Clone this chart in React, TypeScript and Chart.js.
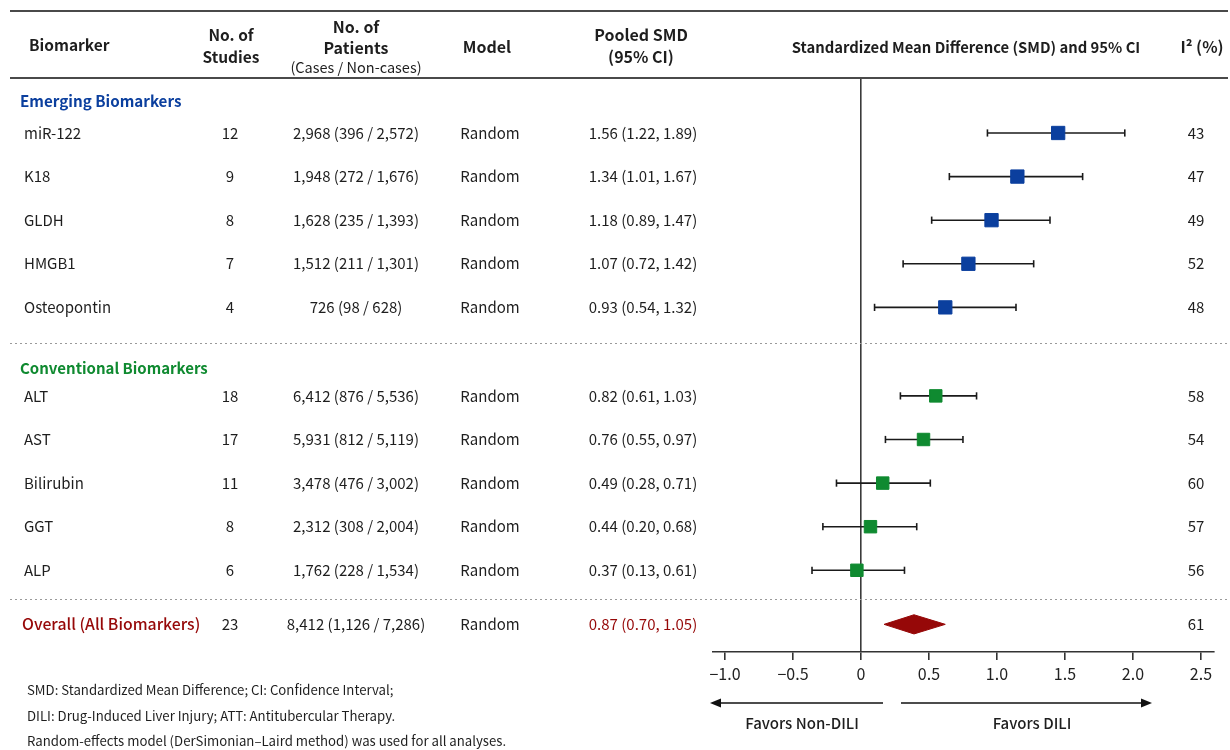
import React, { useEffect, useRef } from "react";
import { Chart, registerables } from "chart.js";

Chart.register(...registerables);

// ---------- data ----------
const emergingNames = ["miR-122", "K18", "GLDH", "HMGB1", "Osteopontin"];
const emergingStudies = [12, 9, 8, 7, 4];
const emergingPatients = [
  "2,968 (396 / 2,572)",
  "1,948 (272 / 1,676)",
  "1,628 (235 / 1,393)",
  "1,512 (211 / 1,301)",
  "726 (98 / 628)",
];
const emergingPooled = [
  "1.56 (1.22, 1.89)",
  "1.34 (1.01, 1.67)",
  "1.18 (0.89, 1.47)",
  "1.07 (0.72, 1.42)",
  "0.93 (0.54, 1.32)",
];
const emergingSmd = [1.45, 1.15, 0.96, 0.79, 0.62];
const emergingLower = [0.93, 0.65, 0.52, 0.31, 0.1];
const emergingUpper = [1.94, 1.63, 1.39, 1.27, 1.14];
const emergingI2 = [43, 47, 49, 52, 48];

const conventionalNames = ["ALT", "AST", "Bilirubin", "GGT", "ALP"];
const conventionalStudies = [18, 17, 11, 8, 6];
const conventionalPatients = [
  "6,412 (876 / 5,536)",
  "5,931 (812 / 5,119)",
  "3,478 (476 / 3,002)",
  "2,312 (308 / 2,004)",
  "1,762 (228 / 1,534)",
];
const conventionalPooled = [
  "0.82 (0.61, 1.03)",
  "0.76 (0.55, 0.97)",
  "0.49 (0.28, 0.71)",
  "0.44 (0.20, 0.68)",
  "0.37 (0.13, 0.61)",
];
const conventionalSmd = [0.55, 0.46, 0.16, 0.07, -0.03];
const conventionalLower = [0.29, 0.18, -0.18, -0.28, -0.36];
const conventionalUpper = [0.85, 0.75, 0.51, 0.41, 0.32];
const conventionalI2 = [58, 54, 60, 57, 56];

const overallLabel = "Overall (All Biomarkers)";
const overallStudies = 23;
const overallPatients = "8,412 (1,126 / 7,286)";
const overallPooled = "0.87 (0.70, 1.05)";
const overallSmd = 0.39;
const overallLower = 0.17;
const overallUpper = 0.62;
const overallI2 = 61;

const modelName = "Random";
const xTickValues = [-1, -0.5, 0, 0.5, 1, 1.5, 2, 2.5];
const xTickLabels = ["\u22121.0", "\u22120.5", "0", "0.5", "1.0", "1.5", "2.0", "2.5"];
const footnotes = [
  "SMD: Standardized Mean Difference; CI: Confidence Interval;",
  "DILI: Drug-Induced Liver Injury; ATT: Antitubercular Therapy.",
  "Random-effects model (DerSimonian\u2013Laird method) was used for all analyses.",
];

// ---------- layout constants ----------
const FONT = "'Noto Sans CJK KR', 'Noto Sans', sans-serif";
const TEXT = "#1e1e1e";
const BLUE = "#0b3f9e";
const GREEN = "#0f8a30";
const RED = "#960808";
const GROUP_GAP = 1.03;
const OVERALL_GAP = 1.24;
const emergingPos = emergingNames.map((_, i) => i);
const conventionalPos = conventionalNames.map((_, i) => i + emergingNames.length + GROUP_GAP);
const overallPos = conventionalPos[conventionalPos.length - 1] + OVERALL_GAP;
const emergingHeaderPos = -0.73;
const conventionalHeaderPos = 5.4;
const separatorPos = [4.82, 10.69];
const DIAMOND_HALF = 0.22;

const COL = { name: 24, studies: 230, patients: 356, model: 490, pooled: 643, i2: 1196 };

function errorBar(lo: number, hi: number, y: number) {
  return {
    data: [
      { x: lo, y },
      { x: hi, y },
    ],
    showLine: true,
    borderColor: "#1a1a1a",
    borderWidth: 1.6,
    pointStyle: "line",
    pointRotation: 90,
    pointRadius: 3.6,
    pointBorderWidth: 1.6,
    pointBorderColor: "#1a1a1a",
    order: 3,
  };
}

const tablePlugin = {
  id: "tableText",
  afterDraw(chart: any) {
    const ctx: CanvasRenderingContext2D = chart.ctx;
    const ys = chart.scales.y;
    const W = chart.width;
    ctx.save();
    ctx.textBaseline = "middle";

    const txt = (s: string, x: number, y: number, align: CanvasTextAlign, font: string, color = TEXT) => {
      ctx.font = font;
      ctx.fillStyle = color;
      ctx.textAlign = align;
      ctx.fillText(s, x, y);
    };
    const bold = `bold 16px ${FONT}`;
    const reg = `15px ${FONT}`;

    // rules
    ctx.strokeStyle = "#4a4a4a";
    ctx.lineWidth = 2;
    ctx.beginPath();
    ctx.moveTo(10, 11);
    ctx.lineTo(W - 2, 11);
    ctx.stroke();
    ctx.lineWidth = 1.8;
    ctx.beginPath();
    ctx.moveTo(10, 78);
    ctx.lineTo(W - 2, 78);
    ctx.stroke();

    ctx.strokeStyle = "#9a9a9a";
    ctx.lineWidth = 1.2;
    ctx.setLineDash([2, 3]);
    separatorPos.forEach((p) => {
      const y = Math.round(ys.getPixelForValue(p)) + 0.5;
      ctx.beginPath();
      ctx.moveTo(10, y);
      ctx.lineTo(W - 2, y);
      ctx.stroke();
    });
    ctx.setLineDash([]);

    // header
    txt("Biomarker", 29, 45, "left", `bold 15.5px ${FONT}`);
    txt("No. of", 231, 35, "center", `bold 15.5px ${FONT}`);
    txt("Studies", 231, 57, "center", `bold 15.5px ${FONT}`);
    txt("No. of", COL.patients, 27, "center", bold);
    txt("Patients", COL.patients, 48, "center", bold);
    txt("(Cases / Non-cases)", COL.patients, 67, "center", `14.5px ${FONT}`);
    txt("Model", 487, 47, "center", bold);
    txt("Pooled SMD", 641, 35, "center", bold);
    txt("(95% CI)", 641, 57, "center", bold);
    txt("Standardized Mean Difference (SMD) and 95% CI", 966, 47, "center", `bold 14.8px ${FONT}`);
    txt("I\u00b2 (%)", 1202, 47, "center", bold);

    // sections
    txt("Emerging Biomarkers", 20, ys.getPixelForValue(emergingHeaderPos), "left", `bold 15.2px ${FONT}`, BLUE);
    txt("Conventional Biomarkers", 20, ys.getPixelForValue(conventionalHeaderPos), "left", `bold 15px ${FONT}`, GREEN);

    const row = (pos: number, name: string, st: number, pat: string, pooled: string, i2: number) => {
      const y = ys.getPixelForValue(pos);
      txt(name, COL.name, y, "left", reg);
      txt(String(st), COL.studies, y, "center", reg);
      txt(pat, COL.patients, y, "center", reg);
      txt(modelName, COL.model, y, "center", reg);
      txt(pooled, COL.pooled, y, "center", reg);
      txt(String(i2), COL.i2, y, "center", reg);
    };
    emergingNames.forEach((n, i) =>
      row(emergingPos[i], n, emergingStudies[i], emergingPatients[i], emergingPooled[i], emergingI2[i])
    );
    conventionalNames.forEach((n, i) =>
      row(conventionalPos[i], n, conventionalStudies[i], conventionalPatients[i], conventionalPooled[i], conventionalI2[i])
    );
    {
      const y = ys.getPixelForValue(overallPos);
      txt(overallLabel, 22, y, "left", `500 15.8px ${FONT}`, RED);
      txt(String(overallStudies), COL.studies, y, "center", reg);
      txt(overallPatients, COL.patients, y, "center", reg);
      txt(modelName, COL.model, y, "center", reg);
      txt(overallPooled, COL.pooled, y, "center", reg, RED);
      txt(String(overallI2), COL.i2, y, "center", reg);
    }

    // arrows
    const ay = 703;
    ctx.strokeStyle = "#111";
    ctx.fillStyle = "#111";
    ctx.lineWidth = 1.6;
    const arrow = (x1: number, x2: number) => {
      const dir = Math.sign(x2 - x1);
      ctx.beginPath();
      ctx.moveTo(x1, ay);
      ctx.lineTo(x2 - dir * 8, ay);
      ctx.stroke();
      ctx.beginPath();
      ctx.moveTo(x2, ay);
      ctx.lineTo(x2 - dir * 11, ay - 4.5);
      ctx.lineTo(x2 - dir * 11, ay + 4.5);
      ctx.closePath();
      ctx.fill();
    };
    arrow(883, 710);
    arrow(901, 1152);
    txt("Favors Non-DILI", 802, 723, "center", `500 15px ${FONT}`);
    txt("Favors DILI", 1032, 723, "center", `500 15px ${FONT}`);

    // footnotes
    footnotes.forEach((f, i) => txt(f, 27, 690 + i * 25.5, "left", `13.2px ${FONT}`));

    ctx.restore();
  },
};

export default function App() {
  const ref = useRef<HTMLCanvasElement | null>(null);
  useEffect(() => {
    if (!ref.current) return;
    Chart.defaults.font.family = FONT;
    const datasets: any[] = [
      {
        data: emergingSmd.map((v, i) => ({ x: v, y: emergingPos[i] })),
        pointStyle: "rect",
        pointRadius: 9.4,
        backgroundColor: BLUE,
        borderColor: BLUE,
        borderWidth: 1,
        order: 1,
      },
      {
        data: conventionalSmd.map((v, i) => ({ x: v, y: conventionalPos[i] })),
        pointStyle: "rect",
        pointRadius: 8.8,
        backgroundColor: GREEN,
        borderColor: GREEN,
        borderWidth: 1,
        order: 1,
      },
      {
        data: [
          { x: overallLower, y: overallPos },
          { x: overallSmd, y: overallPos - DIAMOND_HALF },
          { x: overallUpper, y: overallPos },
          { x: overallSmd, y: overallPos + DIAMOND_HALF },
          { x: overallLower, y: overallPos },
        ],
        showLine: true,
        fill: "shape",
        backgroundColor: RED,
        borderColor: RED,
        borderWidth: 1,
        pointRadius: 0,
        tension: 0,
        order: 2,
      },
      ...emergingSmd.map((_, i) => errorBar(emergingLower[i], emergingUpper[i], emergingPos[i])),
      ...conventionalSmd.map((_, i) => errorBar(conventionalLower[i], conventionalUpper[i], conventionalPos[i])),
    ];
    const chart = new Chart(ref.current, {
      type: "scatter",
      data: { datasets },
      options: {
        responsive: false,
        animation: false,
        events: [],
        layout: { padding: { left: 713, right: 16, top: 78, bottom: 68 } },
        plugins: { legend: { display: false }, tooltip: { enabled: false } },
        scales: {
          x: {
            type: "linear",
            min: -1.088,
            max: 2.596,
            afterBuildTicks: (s: any) => {
              s.ticks = xTickValues.map((v) => ({ value: v }));
            },
            afterFit: (s: any) => {
              s.height = 30;
            },
            ticks: {
              autoSkip: false,
              maxRotation: 0,
              padding: 4,
              color: "#222",
              font: { family: FONT, size: 16 },
              callback: (_v: any, i: number) => xTickLabels[i],
            },
            grid: {
              color: (c: any) => (c.tick && c.tick.value === 0 ? "#3a3a3a" : "rgba(0,0,0,0)"),
              lineWidth: 1.6,
              tickColor: "#333",
              tickLength: 8,
              tickWidth: 1.6,
            },
            border: { display: true, color: "#333", width: 1.6 },
          },
          y: { type: "linear", display: false, min: -1.261, max: 11.904, reverse: true },
        },
      },
      plugins: [tablePlugin],
    } as any);
    return () => chart.destroy();
  }, []);
  return (
    <div style={{ position: "absolute", left: 0, top: 0, width: 1230, height: 750, background: "#fff" }}>
      <canvas ref={ref} width={1230} height={750} style={{ display: "block" }} />
    </div>
  );
}
